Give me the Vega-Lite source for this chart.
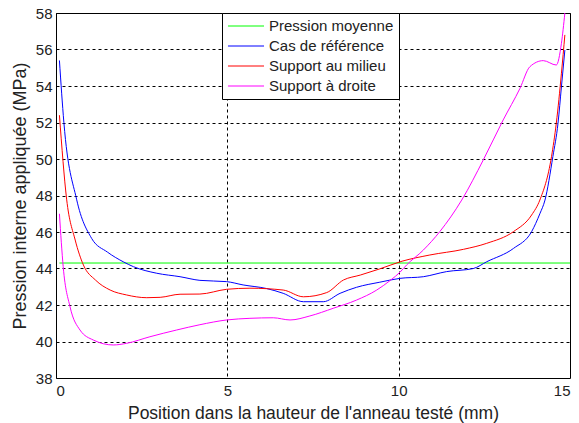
{
  "$schema": "https://vega.github.io/schema/vega-lite/v6.json",
  "width": 514,
  "height": 365,
  "autosize": {"type": "none"},
  "padding": {"left": 56, "top": 13, "right": 9, "bottom": 45},
  "background": "white",
  "config": {
    "font": "Liberation Sans",
    "view": {"stroke": "black", "strokeWidth": 1}
  },
  "data": {
    "values": [
      {"s": "Pression moyenne", "x": 0.1, "y": 44.3},
      {"s": "Pression moyenne", "x": 15, "y": 44.3},

      {"s": "Cas de référence", "x": 0.1, "y": 55.4},
      {"s": "Cas de référence", "x": 0.23, "y": 52.0},
      {"s": "Cas de référence", "x": 0.6, "y": 47.8},
      {"s": "Cas de référence", "x": 1.04, "y": 45.65},
      {"s": "Cas de référence", "x": 1.5, "y": 44.9},
      {"s": "Cas de référence", "x": 1.96, "y": 44.37},
      {"s": "Cas de référence", "x": 2.26, "y": 44.1},
      {"s": "Cas de référence", "x": 2.94, "y": 43.74},
      {"s": "Cas de référence", "x": 3.62, "y": 43.55},
      {"s": "Cas de référence", "x": 4.2, "y": 43.35},
      {"s": "Cas de référence", "x": 4.98, "y": 43.28},
      {"s": "Cas de référence", "x": 5.46, "y": 43.1},
      {"s": "Cas de référence", "x": 6.15, "y": 42.9},
      {"s": "Cas de référence", "x": 6.63, "y": 42.64},
      {"s": "Cas de référence", "x": 7.22, "y": 42.18},
      {"s": "Cas de référence", "x": 7.8, "y": 42.18},
      {"s": "Cas de référence", "x": 8.29, "y": 42.64},
      {"s": "Cas de référence", "x": 8.77, "y": 42.97},
      {"s": "Cas de référence", "x": 9.45, "y": 43.25},
      {"s": "Cas de référence", "x": 10.04, "y": 43.46},
      {"s": "Cas de référence", "x": 10.72, "y": 43.55},
      {"s": "Cas de référence", "x": 11.4, "y": 43.83},
      {"s": "Cas de référence", "x": 12.18, "y": 44.0},
      {"s": "Cas de référence", "x": 12.57, "y": 44.37},
      {"s": "Cas de référence", "x": 13.35, "y": 45.1},
      {"s": "Cas de référence", "x": 13.88, "y": 46.02},
      {"s": "Cas de référence", "x": 14.12, "y": 47.0},
      {"s": "Cas de référence", "x": 14.27, "y": 47.75},
      {"s": "Cas de référence", "x": 14.5, "y": 50.13},
      {"s": "Cas de référence", "x": 14.65, "y": 51.96},
      {"s": "Cas de référence", "x": 14.75, "y": 53.96},
      {"s": "Cas de référence", "x": 14.85, "y": 55.97},

      {"s": "Support au milieu", "x": 0.1, "y": 52.4},
      {"s": "Support au milieu", "x": 0.31, "y": 47.8},
      {"s": "Support au milieu", "x": 0.56, "y": 45.56},
      {"s": "Support au milieu", "x": 0.8, "y": 44.19},
      {"s": "Support au milieu", "x": 1.15, "y": 43.37},
      {"s": "Support au milieu", "x": 1.58, "y": 42.82},
      {"s": "Support au milieu", "x": 2.06, "y": 42.55},
      {"s": "Support au milieu", "x": 2.65, "y": 42.4},
      {"s": "Support au milieu", "x": 3.04, "y": 42.42},
      {"s": "Support au milieu", "x": 3.62, "y": 42.59},
      {"s": "Support au milieu", "x": 4.2, "y": 42.6},
      {"s": "Support au milieu", "x": 4.98, "y": 42.86},
      {"s": "Support au milieu", "x": 5.66, "y": 42.92},
      {"s": "Support au milieu", "x": 6.63, "y": 42.82},
      {"s": "Support au milieu", "x": 7.22, "y": 42.45},
      {"s": "Support au milieu", "x": 7.9, "y": 42.68},
      {"s": "Support au milieu", "x": 8.39, "y": 43.37},
      {"s": "Support au milieu", "x": 8.88, "y": 43.64},
      {"s": "Support au milieu", "x": 9.45, "y": 43.98},
      {"s": "Support au milieu", "x": 10.1, "y": 44.4},
      {"s": "Support au milieu", "x": 10.91, "y": 44.74},
      {"s": "Support au milieu", "x": 11.89, "y": 45.05},
      {"s": "Support au milieu", "x": 12.57, "y": 45.38},
      {"s": "Support au milieu", "x": 13.35, "y": 46.02},
      {"s": "Support au milieu", "x": 13.88, "y": 46.93},
      {"s": "Support au milieu", "x": 14.12, "y": 47.75},
      {"s": "Support au milieu", "x": 14.46, "y": 50.13},
      {"s": "Support au milieu", "x": 14.6, "y": 51.96},
      {"s": "Support au milieu", "x": 14.75, "y": 54.7},
      {"s": "Support au milieu", "x": 14.85, "y": 56.8},

      {"s": "Support à droite", "x": 0.1, "y": 47.0},
      {"s": "Support à droite", "x": 0.21, "y": 44.1},
      {"s": "Support à droite", "x": 0.41, "y": 41.9},
      {"s": "Support à droite", "x": 0.7, "y": 40.63},
      {"s": "Support à droite", "x": 1.09, "y": 40.08},
      {"s": "Support à droite", "x": 1.67, "y": 39.81},
      {"s": "Support à droite", "x": 2.06, "y": 39.9},
      {"s": "Support à droite", "x": 2.74, "y": 40.26},
      {"s": "Support à droite", "x": 3.52, "y": 40.63},
      {"s": "Support à droite", "x": 4.2, "y": 40.92},
      {"s": "Support à droite", "x": 4.98, "y": 41.18},
      {"s": "Support à droite", "x": 5.66, "y": 41.27},
      {"s": "Support à droite", "x": 6.34, "y": 41.3},
      {"s": "Support à droite", "x": 6.83, "y": 41.18},
      {"s": "Support à droite", "x": 7.41, "y": 41.4},
      {"s": "Support à droite", "x": 8.09, "y": 41.82},
      {"s": "Support à droite", "x": 8.77, "y": 42.27},
      {"s": "Support à droite", "x": 9.36, "y": 42.82},
      {"s": "Support à droite", "x": 9.77, "y": 43.37},
      {"s": "Support à droite", "x": 10.04, "y": 43.8},
      {"s": "Support à droite", "x": 10.23, "y": 44.19},
      {"s": "Support à droite", "x": 10.72, "y": 45.01},
      {"s": "Support à droite", "x": 11.2, "y": 46.02},
      {"s": "Support à droite", "x": 11.84, "y": 47.75},
      {"s": "Support à droite", "x": 12.47, "y": 49.95},
      {"s": "Support à droite", "x": 13.05, "y": 52.14},
      {"s": "Support à droite", "x": 13.54, "y": 53.87},
      {"s": "Support à droite", "x": 13.83, "y": 55.06},
      {"s": "Support à droite", "x": 14.22, "y": 55.39},
      {"s": "Support à droite", "x": 14.6, "y": 55.15},
      {"s": "Support à droite", "x": 14.75, "y": 56.34},
      {"s": "Support à droite", "x": 14.85, "y": 58.0}
    ]
  },
  "mark": {"type": "line", "strokeWidth": 1, "clip": true, "interpolate": "monotone"},
  "encoding": {
    "x": {
      "field": "x", "type": "quantitative",
      "scale": {"domain": [0, 15], "nice": false, "zero": false},
      "axis": {
        "title": "Position dans la hauteur de l'anneau testé (mm)",
        "values": [0, 5, 10, 15],
        "grid": true, "gridColor": "black", "gridDash": [3, 3], "gridOpacity": 1,
        "ticks": false, "domain": false,
        "labelFontSize": 15, "labelColor": "#222", "labelPadding": 5,
        "titleFontSize": 17.5, "titleFontWeight": "normal", "titleColor": "#222", "titlePadding": 6
      }
    },
    "y": {
      "field": "y", "type": "quantitative",
      "scale": {"domain": [38, 58], "nice": false, "zero": false},
      "axis": {
        "title": "Pression interne appliquée (MPa)",
        "values": [38, 40, 42, 44, 46, 48, 50, 52, 54, 56, 58],
        "grid": true, "gridColor": "black", "gridDash": [3, 3], "gridOpacity": 1,
        "ticks": false, "domain": false,
        "labelFontSize": 15, "labelColor": "#222", "labelPadding": 4,
        "titleFontSize": 18, "titleFontWeight": "normal", "titleColor": "#222", "titlePadding": 6
      }
    },
    "color": {
      "field": "s", "type": "nominal",
      "scale": {
        "domain": ["Pression moyenne", "Cas de référence", "Support au milieu", "Support à droite"],
        "range": ["#00ff00", "#0000ff", "#ff0000", "#ff00ff"]
      },
      "legend": {
        "title": null,
        "orient": "none",
        "legendX": 166,
        "legendY": 0,
        "fillColor": "white",
        "strokeColor": "black",
        "padding": 5,
        "symbolType": "stroke",
        "symbolSize": 1300,
        "symbolStrokeWidth": 1,
        "clipHeight": 16,
        "labelFontSize": 15,
        "labelColor": "#222",
        "rowPadding": 4,
        "labelOffset": 4
      }
    }
  }
}
